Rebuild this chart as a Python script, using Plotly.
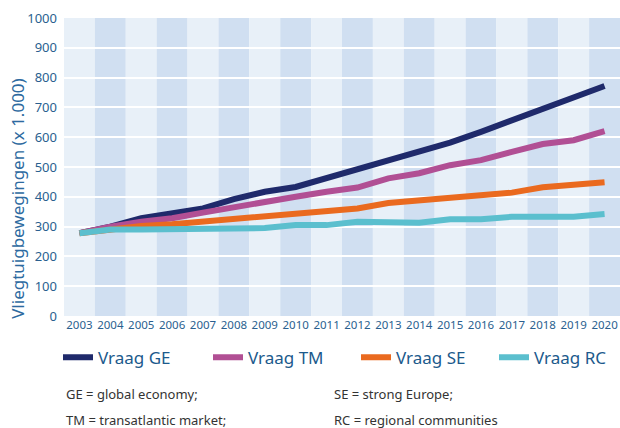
import plotly.graph_objects as go

years = list(range(2003, 2021))
vraag_ge = [278, 300, 328, 345, 361, 392, 417, 433, 462, 496, 523, 551, 582, 618, 657, 695, 730, 772]
vraag_tm = [278, 300, 316, 328, 347, 366, 383, 400, 417, 431, 462, 479, 506, 523, 551, 577, 590, 620]
vraag_se = [278, 292, 302, 308, 316, 325, 333, 345, 352, 361, 379, 389, 395, 406, 414, 432, 443, 449]
vraag_rc = [278, 290, 290, 290, 295, 295, 295, 305, 305, 316, 315, 313, 325, 325, 333, 333, 333, 342]

series = [
    ("Vraag GE", vraag_ge, "#1f2a6b", "legend"),
    ("Vraag TM", vraag_tm, "#b14f94", "legend2"),
    ("Vraag SE", vraag_se, "#ea6a1f", "legend3"),
    ("Vraag RC", vraag_rc, "#5bbfce", "legend4"),
]
legend_x = [58, 208, 356, 494]  # px where each legend entry begins

FONT = "Noto Sans, Open Sans, Liberation Sans, sans-serif"

fig = go.Figure()
for name, vals, col, lg in series:
    fig.add_trace(go.Scatter(x=years, y=vals, name=name, mode="lines", legend=lg,
                             line=dict(color=col, width=6)))

# alternating column bands
for i, yr in enumerate(years):
    fig.add_shape(type="rect", xref="x", yref="paper", x0=yr - 0.5, x1=yr + 0.5,
                  y0=0, y1=1, layer="below", line_width=0,
                  fillcolor="#e8f0f8" if i % 2 == 0 else "#d0dff1")

legends = {}
for (name, vals, col, lg), px in zip(series, legend_x):
    legends[lg] = dict(orientation="h", x=(px - 64) / 556, y=-0.14, xanchor="left",
                       yanchor="middle", font=dict(size=17, color="#1c5a8c", family=FONT),
                       itemwidth=30, bgcolor="rgba(0,0,0,0)")

fig.update_layout(
    width=620, height=428,
    margin=dict(l=64, r=0, t=18, b=112, autoexpand=False),
    paper_bgcolor="white", plot_bgcolor="white",
    font=dict(family=FONT, color="#1f4e79"),
    showlegend=True,
    **legends,
)
fig.update_xaxes(range=[2002.5, 2020.5], tickmode="array", tickvals=years,
                 showgrid=False, zeroline=False, ticks="", tickfont=dict(size=11.5, color="#2a5f8f"))
fig.update_yaxes(range=[0, 1000], dtick=100, showgrid=True, gridcolor="white", gridwidth=1.5,
                 zeroline=False, ticks="", tickfont=dict(size=13, color="#2a5f8f"), ticklabelstandoff=6)

fig.add_annotation(text="Vliegtuigbewegingen (x 1.000)", textangle=-90, xref="paper", yref="paper",
                   x=-0.083, y=0.396, xanchor="center", yanchor="middle", showarrow=False,
                   font=dict(size=17, color="#2d6aa0"))

notes = [("GE = global economy;", 0.0, -0.262), ("SE = strong Europe;", 0.482, -0.262),
         ("TM = transatlantic market;", 0.0, -0.349), ("RC = regional communities", 0.482, -0.349)]
for txt, nx, ny in notes:
    fig.add_annotation(text=txt, xref="paper", yref="paper", x=nx, y=ny, xanchor="left",
                       yanchor="middle", showarrow=False, font=dict(size=13, color="#333333"))

# drop the browser's default body margin so the figure fills the window
fig.write_html("out.html", config={"displayModeBar": False},
               post_script="document.body.style.margin='0';document.body.style.overflow='hidden';")
